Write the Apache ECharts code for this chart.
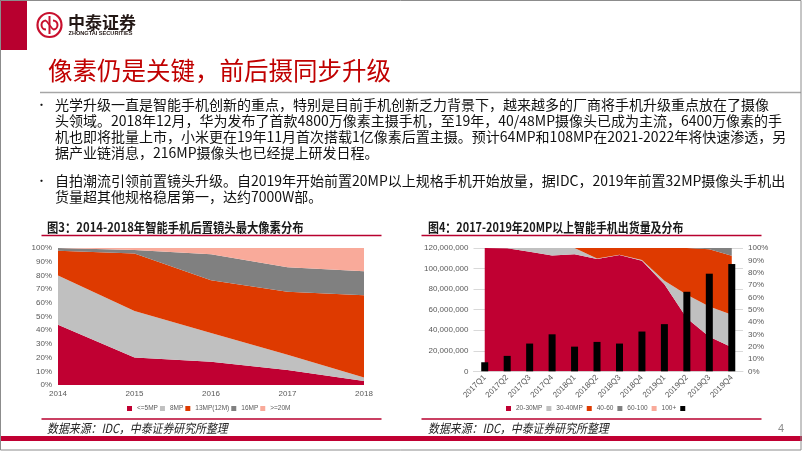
<!DOCTYPE html>
<html><head><meta charset="utf-8">
<script src="https://cdn.jsdelivr.net/npm/echarts@6/dist/echarts.min.js"></script>
<style>html,body{margin:0;padding:0;background:#fff}#c{width:802px;height:451px}</style>
</head><body><div id="c"></div>
<script>
// ---- Chart 1 data (100% stacked area, %) ----
const years = ['2014','2015','2016','2017','2018'];
const s_le5 = [44, 20, 17, 11, 3];
const s_8mp = [36, 34, 21, 11, 2.5];
const s_13mp = [18, 42, 38.5, 46, 60];
const s_16mp = [2, 2.5, 19, 18, 17.5];
const s_ge20 = [0, 1.5, 4.5, 14, 17];
const names1 = ['<=5MP','8MP','13MP(12M)','16MP','>=20M'];

// ---- Chart 2 data ----
const quarters = ['2017Q1','2017Q2','2017Q3','2017Q4','2018Q1','2018Q2','2018Q3','2018Q4','2019Q1','2019Q2','2019Q3','2019Q4'];
const share_20_30 = [100, 99.7, 97, 94, 95, 91, 94.3, 89.7, 70.5, 43, 28, 19.5];
const share_30_40 = [0, 0.3, 3, 6, 5, 0.5, 0.3, 0.5, 3, 19, 24.6, 26.3];
const share_40_60 = [0, 0, 0, 0, 0, 8.5, 5.4, 9.8, 26.5, 38, 46.4, 48];
const share_60_100 = [0, 0, 0, 0, 0, 0, 0, 0, 0, 0, 1, 6.2];
const share_100p = [0, 0, 0, 0, 0, 0, 0, 0, 0, 0, 0, 0];
const shipments = [8.8e6, 15e6, 27e6, 36e6, 24e6, 28.6e6, 27e6, 38.7e6, 45.9e6, 77.4e6, 95e6, 104.4e6];
const names2 = ['20-30MP','30-40MP','40-60','60-100','100+'];

const yTicks2 = [0, 20000000, 40000000, 60000000, 80000000, 100000000, 120000000];

const bulletLines = [
 '光学升级一直是智能手机创新的重点，特别是目前手机创新乏力背景下，越来越多的厂商将手机升级重点放在了摄像',
 '头领域。2018年12月，华为发布了首款4800万像素主摄手机，至19年，40/48MP摄像头已成为主流，6400万像素的手',
 '机也即将批量上市，小米更在19年11月首次搭载1亿像素后置主摄。预计64MP和108MP在2021-2022年将快速渗透，另',
 '据产业链消息，216MP摄像头也已经提上研发日程。',
 '自拍潮流引领前置镜头升级。自2019年开始前置20MP以上规格手机开始放量，据IDC，2019年前置32MP摄像头手机出',
 '货量超其他规格稳居第一，达约7000W部。'
];

const C_RED = '#C00032', C_LGRAY = '#C0C0C0', C_ORANGE = '#DE3A00', C_DGRAY = '#808080', C_SALMON = '#F9AA9A';
const colors = [C_RED, C_LGRAY, C_ORANGE, C_DGRAY, C_SALMON];
const FONT = '"Noto Sans CJK SC", "Noto Sans", sans-serif';
const AX = {fontSize: 8, color: '#595959', fontFamily: 'Arial, "Liberation Sans", sans-serif'};
const LG = {fontSize: 6.5, color: '#595959', fontFamily: 'Arial, "Liberation Sans", sans-serif'};

const chart = echarts.init(document.getElementById('c'), null, {renderer: 'canvas'});

const series = [];
[s_le5, s_8mp, s_13mp, s_16mp, s_ge20].forEach((d, i) => {
  series.push({name: names1[i], type: 'line', xAxisIndex: 0, yAxisIndex: 0, stack: 'a', data: d,
    symbol: 'none', lineStyle: {width: 0}, areaStyle: {color: colors[i], opacity: 1}, itemStyle: {color: colors[i]}, silent: true, z: 2});
});
[share_20_30, share_30_40, share_40_60, share_60_100, share_100p].forEach((d, i) => {
  series.push({name: names2[i], type: 'line', xAxisIndex: 1, yAxisIndex: 2, stack: 'b', data: d,
    symbol: 'none', lineStyle: {width: 0}, areaStyle: {color: colors[i], opacity: 1}, itemStyle: {color: colors[i]}, silent: true, z: 2});
});
series.push({name: ' ', type: 'bar', xAxisIndex: 1, yAxisIndex: 1, data: shipments, barWidth: 7,
  itemStyle: {color: '#000'}, z: 5, silent: true});

const graphic = [];
// frame
graphic.push({type: 'rect', shape: {x: 0.5, y: 0.5, width: 800.5, height: 449.5}, style: {fill: 'none', stroke: '#8c8c8c', lineWidth: 1}, z: 100});
// top-left block
graphic.push({type: 'rect', shape: {x: 0, y: 0, width: 27, height: 50}, style: {fill: '#B8002F'}});
// logo
graphic.push({type: 'circle', shape: {cx: 49.5, cy: 25, r: 12}, style: {fill: 'none', stroke: '#C8102E', lineWidth: 2.2}});
graphic.push({type: 'arc', shape: {cx: 46, cy: 25, r: 4.5, startAngle: Math.PI * 0.5, endAngle: Math.PI * 1.5}, style: {fill: 'none', stroke: '#C8102E', lineWidth: 2}});
graphic.push({type: 'arc', shape: {cx: 53, cy: 25, r: 4.5, startAngle: -Math.PI * 0.5, endAngle: Math.PI * 0.5}, style: {fill: 'none', stroke: '#C8102E', lineWidth: 2}});
graphic.push({type: 'line', shape: {x1: 49.5, y1: 16, x2: 49.5, y2: 34}, style: {stroke: '#C8102E', lineWidth: 2}});
graphic.push({type: 'line', shape: {x1: 46, y1: 20.5, x2: 53, y2: 29.5}, style: {stroke: '#C8102E', lineWidth: 1.6}});
graphic.push({type: 'text', style: {x: 68, y: 22.5, text: '中泰证券', fontSize: 17, fontWeight: 'bold', fill: '#231815', fontFamily: FONT, verticalAlign: 'middle'}});
graphic.push({type: 'text', style: {x: 68.5, y: 33.5, text: 'ZHONGTAI SECURITIES', fontSize: 5.6, fontWeight: 'bold', fill: '#231815', fontFamily: 'Arial, sans-serif', verticalAlign: 'middle'}});
// title
graphic.push({type: 'text', style: {x: 48, y: 71, text: '像素仍是关键，前后摄同步升级', fontSize: 24.5, fill: '#C00000', fontFamily: FONT, verticalAlign: 'middle'}});
graphic.push({type: 'line', shape: {x1: 40, y1: 92.5, x2: 801, y2: 92.5}, style: {stroke: '#A6A6A6', lineWidth: 1.5}});
// bullets
const lineY = [105, 121, 137, 153, 181, 197];
bulletLines.forEach((t, i) => {
  graphic.push({type: 'text', style: {x: 55, y: lineY[i], text: t, fontSize: 14, fill: '#111', fontFamily: FONT, verticalAlign: 'middle'}});
});
[105, 181].forEach(y => graphic.push({type: 'text', style: {x: 36, y: y, text: '•', fontSize: 11, fill: '#111', fontFamily: FONT, verticalAlign: 'middle'}}));
// chart titles (condensed)
graphic.push({type: 'text', x: 47, y: 227.5, scaleX: 0.87, style: {x: 0, y: 0, text: '图3：2014-2018年智能手机后置镜头最大像素分布', fontSize: 13, fontWeight: 'bold', fill: '#1a1a1a', fontFamily: FONT, verticalAlign: 'middle'}});
graphic.push({type: 'text', x: 428, y: 227.5, scaleX: 0.84, style: {x: 0, y: 0, text: '图4：2017-2019年20MP以上智能手机出货量及分布', fontSize: 13, fontWeight: 'bold', fill: '#1a1a1a', fontFamily: FONT, verticalAlign: 'middle'}});
[[41.5, 381.5], [421.5, 761.5]].forEach(([a, b]) => {
  graphic.push({type: 'line', shape: {x1: a, y1: 235.5, x2: b, y2: 235.5}, style: {stroke: '#B8002F', lineWidth: 1.5}});
  graphic.push({type: 'line', shape: {x1: a, y1: 419, x2: b, y2: 419}, style: {stroke: '#B8002F', lineWidth: 1.5}});
});
// sources
[47, 428].forEach(x => graphic.push({type: 'text', x: x, y: 428.5, scaleX: 0.87, style: {x: 0, y: 0, text: '数据来源：IDC，中泰证券研究所整理', fontSize: 12.5, fontStyle: 'italic', fill: '#262626', fontFamily: FONT, verticalAlign: 'middle'}}));
graphic.push({type: 'text', style: {x: 778, y: 428.5, text: '4', fontSize: 11, fill: '#8c8c8c', fontFamily: 'Arial, sans-serif', verticalAlign: 'middle'}});
// bottom band
graphic.push({type: 'rect', shape: {x: 0, y: 436, width: 802, height: 5}, style: {fill: '#C00032'}});

const option = {
  animation: false,
  grid: [
    {left: 58, top: 248, width: 306, height: 137},
    {left: 473.5, top: 248, width: 269.5, height: 123.3}
  ],
  xAxis: [
    {type: 'category', gridIndex: 0, data: years, boundaryGap: false,
     axisLine: {show: false}, axisTick: {show: false}, axisLabel: Object.assign({margin: 5}, AX)},
    {type: 'category', gridIndex: 1, data: quarters, boundaryGap: true,
     axisLine: {show: true, lineStyle: {color: '#D9D9D9'}}, axisTick: {show: false},
     axisLabel: Object.assign({margin: 5, rotate: 45, interval: 0}, AX)}
  ],
  yAxis: [
    {type: 'value', gridIndex: 0, min: 0, max: 100, interval: 10,
     axisLine: {show: false}, axisTick: {show: false}, splitLine: {show: false},
     axisLabel: Object.assign({margin: 6, formatter: '{value}%'}, AX)},
    {type: 'value', gridIndex: 1, min: yTicks2[0], max: yTicks2[yTicks2.length - 1], interval: 20000000,
     axisLine: {show: false}, axisTick: {show: false}, splitLine: {show: true, lineStyle: {color: '#D9D9D9', width: 1}},
     axisLabel: Object.assign({margin: 5, formatter: v => v.toLocaleString('en-US')}, AX)},
    {type: 'value', gridIndex: 1, position: 'right', min: 0, max: 100, interval: 10,
     axisLine: {show: false}, axisTick: {show: false}, splitLine: {show: false},
     axisLabel: Object.assign({margin: 5, formatter: '{value}%'}, AX)}
  ],
  legend: [
    {data: names1, left: 127, top: 405, padding: 0, itemWidth: 5, itemHeight: 5, itemGap: 2, icon: 'rect',
     selectedMode: false, textStyle: LG},
    {data: names2.concat([' ']), left: 506, top: 405, padding: 0, itemWidth: 5, itemHeight: 5, itemGap: 4, icon: 'rect',
     selectedMode: false, textStyle: LG}
  ],
  series: series,
  graphic: graphic
};
chart.setOption(option);
</script></body></html>
